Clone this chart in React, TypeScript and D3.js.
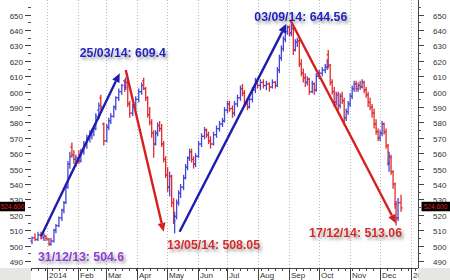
import React from "react";
import * as d3 from "d3";

// ---- price data (OHLC) ----
const dates = [
  "2013-12-17","2013-12-20","2013-12-23","2013-12-26","2013-12-29","2013-12-31",
  "2014-01-03","2014-01-05","2014-01-08","2014-01-10","2014-01-13","2014-01-16","2014-01-18","2014-01-20","2014-01-22","2014-01-24","2014-01-26","2014-01-28","2014-01-30",
  "2014-02-02","2014-02-04","2014-02-07","2014-02-10","2014-02-13","2014-02-15","2014-02-17","2014-02-19","2014-02-22","2014-02-24","2014-02-27",
  "2014-03-02","2014-03-04","2014-03-06","2014-03-09","2014-03-11","2014-03-14","2014-03-17","2014-03-20","2014-03-21","2014-03-23","2014-03-25","2014-03-28","2014-03-31",
  "2014-04-03","2014-04-06","2014-04-08","2014-04-10","2014-04-12","2014-04-14","2014-04-16","2014-04-18","2014-04-20","2014-04-22","2014-04-24","2014-04-26","2014-04-28","2014-04-30",
  "2014-05-02","2014-05-04","2014-05-06","2014-05-08","2014-05-09","2014-05-11","2014-05-13","2014-05-15","2014-05-18","2014-05-20","2014-05-22","2014-05-24","2014-05-26","2014-05-28","2014-05-30",
  "2014-06-02","2014-06-05","2014-06-08","2014-06-10","2014-06-12","2014-06-14","2014-06-17","2014-06-20","2014-06-23","2014-06-26","2014-06-28",
  "2014-07-01","2014-07-03","2014-07-06","2014-07-08","2014-07-11","2014-07-14","2014-07-16","2014-07-18","2014-07-21","2014-07-23","2014-07-26","2014-07-29","2014-07-31",
  "2014-08-03","2014-08-06","2014-08-09","2014-08-12","2014-08-15","2014-08-18","2014-08-20","2014-08-22","2014-08-24","2014-08-26","2014-08-28","2014-08-30",
  "2014-09-01","2014-09-03","2014-09-05","2014-09-07","2014-09-09","2014-09-11","2014-09-13","2014-09-15","2014-09-17","2014-09-19","2014-09-21","2014-09-24","2014-09-26","2014-09-28",
  "2014-10-01","2014-10-04","2014-10-07","2014-10-09","2014-10-10","2014-10-12","2014-10-14","2014-10-16","2014-10-18","2014-10-20","2014-10-22","2014-10-24","2014-10-26","2014-10-28","2014-10-30",
  "2014-11-01","2014-11-03","2014-11-05","2014-11-07","2014-11-09","2014-11-11","2014-11-13","2014-11-15","2014-11-17","2014-11-19","2014-11-21","2014-11-23","2014-11-25","2014-11-27","2014-11-29",
  "2014-12-01","2014-12-03","2014-12-05","2014-12-07","2014-12-09","2014-12-10","2014-12-12","2014-12-14","2014-12-16","2014-12-17","2014-12-19","2014-12-22",
];
const opens = [
  503,505,504,507,505,506,
  504,501,503,510,513,518,523,528,538,553,564,559,556,
  557,555,561,566,570,572,574,576,588,596,579,
  568,577,581,584,590,596,600,607,603,606,592,586,590,
  595,600,607,602,596,585,580,573,566,573,578,576,566,556,
  546,538,545,528,516,519,528,534,538,544,551,557,561,556,553,
  558,566,571,575,572,568,566,572,576,579,581,
  588,592,589,586,592,596,602,599,592,590,595,601,607,
  604,606,604,605,603,606,604,614,622,628,634,639,
  642,638,641,627,632,633,618,612,609,606,608,600,605,601,
  610,612,614,616,624,617,606,600,593,598,591,597,594,583,587,
  592,597,602,605,602,604,603,606,601,598,593,590,586,579,574,
  570,573,579,574,565,553,557,548,540,527,518,528,
];
const highs = [
  506,508,509,509,508,507,
  505,505,511,514,519,524,529,540,555,561,567,562,559,
  562,563,568,572,575,576,578,586,593,598,580,
  579,583,586,591,597,602,605,608,609.4,607,594,592,597,
  602,606,609,603,597,590,582,575,575,580,581,579,568,558,
  551,548,546,531,522,530,536,540,546,553,558,563,563,558,560,
  568,573,577,576,574,571,574,578,581,583,590,
  594,594,591,594,598,604,605,601,596,597,603,609,609,
  608,608,607,606,608,607,616,624,630,636,641,643,
  643,644.56,642,634,635,634,621,615,612,610,609,607,606,612,
  614,616,618,621,627,618,608,603,600,600,599,600,596,589,594,
  599,604,607,607,606,607,608,607,603,600,596,592,589,582,576,
  575,581,580,576,566,561,559,549,541,529,531,533,
];
const lows = [
  501,503,503,504,503,503,
  500,500,502,508,512,516,521,527,537,550,557,553,551,
  553,554,559,563,567,569,571,575,582,588,565,
  567,575,579,583,588,594,598,600,601,590,583,584,588,
  593,598,601,594,583,578,570,557,565,571,574,564,554,544,
  535,532,525,514,508.05,517,526,531,536,543,549,555,554,550,551,
  557,564,569,570,566,563,565,570,574,577,580,
  586,587,583,584,590,594,597,590,588,589,593,599,602,
  601,602,601,600,602,602,603,612,620,626,632,637,
  636,636,624,626,629,616,610,606,603,604,598,599,598,600,
  608,610,612,614,615,604,598,590,591,586,589,592,578,581,585,
  590,595,600,600,600,601,602,599,596,590,588,583,576,572,568,
  568,571,572,563,552,548,546,537,524,513.06,516,522,
];
const closes = [
  505,504,507,505,506,504.6,
  501,503,510,513,518,523,528,538,553,558,559,556,557,
  555,561,566,570,572,574,576,584,591,590,568,
  577,581,584,590,596,600,604,603,606,592,586,590,595,
  600,604,602,596,585,580,573,566,573,578,576,566,556,546,
  538,545,528,516,519,528,534,538,544,551,557,561,556,553,558,
  566,571,575,572,568,566,572,576,579,581,588,
  592,589,586,592,596,602,599,592,590,595,601,607,604,
  606,604,605,603,606,604,614,622,628,634,639,642,
  638,641,627,632,633,618,612,609,606,608,600,605,601,610,
  612,614,616,620,617,606,600,593,598,591,597,594,583,587,592,
  597,602,605,602,604,603,606,601,598,593,590,586,579,574,570,
  573,579,574,565,554,558,548,540,527,518,528,524.6,
];

// ---- axes ----
const yTickValues = [490,500,510,520,530,540,550,560,570,580,590,600,610,620,630,640,650];
const monthDates = ["2014-01-01","2014-02-01","2014-03-01","2014-04-01","2014-05-01","2014-06-01","2014-07-01","2014-08-01","2014-09-01","2014-10-01","2014-11-01","2014-12-01","2015-01-01"];
const monthLabels = ["2014","Feb","Mar","Apr","May","Jun","Jul","Aug","Sep","Oct","Nov","Dec","2015"];
const lastValue = 524.6;

// ---- annotations ----
const labelTexts = ["31/12/13: 504.6","25/03/14: 609.4","13/05/14: 508.05","03/09/14: 644.56","17/12/14: 513.06"];
const labelDates = ["2013-12-31","2014-03-25","2014-05-13","2014-09-03","2014-12-17"];
const labelValues = [504.6, 609.4, 508.05, 644.56, 513.06];
const labelColors = ["#8d3fd8","#2323c4","#d42a2a","#2323c4","#d42a2a"];
const labelOffsets = [[-8, 22.4],[-50, -20],[-11.6, 16.2],[-37, -2.5],[-87, 11.4]];

const arrowFromDates = ["2013-12-26","2014-03-21","2014-05-14","2014-09-02"];
const arrowFromValues = [506, 614, 509, 646.5];
const arrowToDates = ["2014-03-15","2014-04-28","2014-08-29","2014-12-17"];
const arrowToValues = [612, 509, 644, 514.4];
const arrowColors = ["#1c1cae","#d61f1f","#1c1cae","#d61f1f"];

const parse = d3.timeParse("%Y-%m-%d");

function head(x1: number, y1: number, x2: number, y2: number, len: number, w: number) {
  const a = Math.atan2(y2 - y1, x2 - x1);
  const bx = x2 - len * Math.cos(a), by = y2 - len * Math.sin(a);
  const px = -Math.sin(a) * w / 2, py = Math.cos(a) * w / 2;
  return { pts: `${x2},${y2} ${bx + px},${by + py} ${bx - px},${by - py}`, bx, by };
}

export default function App() {
  const W = 450, H = 280;
  const left = 31, right = 418, bottom = 268;
  const x = d3.scaleTime().domain([parse("2013-12-16")!, parse("2015-01-08")!]).range([left, right]);
  const y = d3.scaleLinear().domain([485.5, 659.5]).range([bottom, 0]);
  const font = "Arial, 'Liberation Sans', sans-serif";
  const minor = d3.range(490, 656, 5);
  const weeks = d3.timeMonday.range(x.domain()[0], x.domain()[1]);
  const blue = "#4646d8", red = "#e02b2b";
  const yLast = y(lastValue);

  return (
    <svg width={W} height={H} style={{ position: "fixed", left: 0, top: 0, background: "#fff" }} fontFamily={font}>
      <defs>
        <filter id="sh" x="-10%" y="-40%" width="130%" height="200%">
          <feDropShadow dx="2" dy="2.5" stdDeviation="1.4" floodColor="#777" floodOpacity="0.7" />
        </filter>
      </defs>
      <rect x={0} y={0} width={W} height={H} fill="#fff" />
      {/* month gridlines */}
      {monthDates.map((d, i) => {
        const xx = Math.round(x(parse(d)!)) + 0.5;
        return (
          <g key={"m" + i}>
            <line x1={xx} x2={xx} y1={0} y2={bottom} stroke="#b8b8b8" strokeDasharray="1 2" />
            <line x1={xx} x2={xx} y1={bottom} y2={H} stroke="#444" />
            <text x={xx + 1.5} y={278} fontSize={8} fill="#333">{monthLabels[i]}</text>
          </g>
        );
      })}
      {/* weekly ticks */}
      {weeks.map((d, i) => {
        const xx = Math.round(x(d)) + 0.5;
        return <line key={"w" + i} x1={xx} x2={xx} y1={bottom} y2={bottom + 3} stroke="#444" />;
      })}
      {/* x axis line */}
      <line x1={left} x2={right} y1={bottom + 0.5} y2={bottom + 0.5} stroke="#444" />
      {/* right axis */}
      <line x1={right + 0.5} x2={right + 0.5} y1={0} y2={bottom} stroke="#444" />
      {/* y ticks */}
      {minor.map((v, i) => {
        const yy = Math.round(y(v)) + 0.5;
        return (
          <g key={"n" + i}>
            <line x1={left - 3} x2={left} y1={yy} y2={yy} stroke="#555" />
            <line x1={right} x2={right + 3} y1={yy} y2={yy} stroke="#555" />
          </g>
        );
      })}
      {yTickValues.map((v, i) => {
        const yy = Math.round(y(v)) + 0.5;
        return (
          <g key={"t" + i}>
            <line x1={left - 6} x2={left} y1={yy} y2={yy} stroke="#444" />
            <line x1={right} x2={right + 6} y1={yy} y2={yy} stroke="#444" />
            <text x={23} y={yy + 3} fontSize={8} fill="#333" textAnchor="end">{v}</text>
            <text x={433} y={yy + 3} fontSize={8} fill="#333">{v}</text>
          </g>
        );
      })}
      {/* OHLC bars */}
      {dates.map((d, i) => {
        const xx = x(parse(d)!);
        const c = closes[i] >= opens[i] ? blue : red;
        return (
          <g key={"b" + i} stroke={c} strokeWidth={1.3}>
            <line x1={xx} x2={xx} y1={y(highs[i])} y2={y(lows[i])} />
            <line x1={xx - 1.7} x2={xx} y1={y(opens[i])} y2={y(opens[i])} />
            <line x1={xx} x2={xx + 1.7} y1={y(closes[i])} y2={y(closes[i])} />
          </g>
        );
      })}
      {/* trend arrows */}
      {arrowFromDates.map((d, i) => {
        const x1 = x(parse(d)!), y1 = y(arrowFromValues[i]);
        const x2 = x(parse(arrowToDates[i])!), y2 = y(arrowToValues[i]);
        const h = head(x1, y1, x2, y2, 9, 8);
        return (
          <g key={"a" + i}>
            <line x1={x1} y1={y1} x2={h.bx} y2={h.by} stroke={arrowColors[i]} strokeWidth={2.4} />
            <polygon points={h.pts} fill={arrowColors[i]} />
          </g>
        );
      })}
      {/* annotation labels */}
      {labelTexts.map((t, i) => (
        <text key={"l" + i} x={x(parse(labelDates[i])!) + labelOffsets[i][0]} y={y(labelValues[i]) + labelOffsets[i][1]}
          fontSize={12.3} fontWeight="bold" fill={labelColors[i]} filter="url(#sh)">{t}</text>
      ))}
      {/* corner boxes */}
      <rect x={0} y={bottom} width={left} height={H - bottom} fill="#e6e6e2" />
      <rect x={right + 0.5} y={bottom} width={W - right} height={H - bottom} fill="#e6e6e2" />
      {/* last value boxes */}
      <rect x={0} y={yLast - 6} width={25} height={9.5} fill="#000" />
      <text x={12.5} y={yLast + 1.5} fontSize={6.5} fill="#e02020" textAnchor="middle">{lastValue.toFixed(3)}</text>
      <rect x={421.5} y={yLast - 6} width={W - 421.5} height={9.5} fill="#000" />
      <text x={435.5} y={yLast + 1.5} fontSize={6.5} fill="#e02020" textAnchor="middle">{lastValue.toFixed(3)}</text>
    </svg>
  );
}
